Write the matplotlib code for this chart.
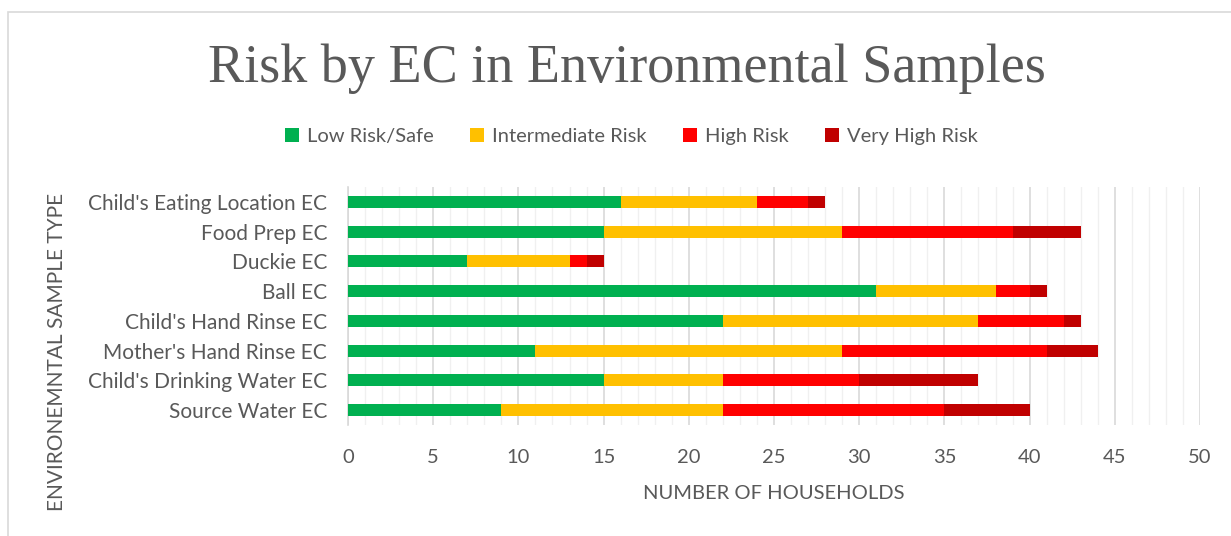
import numpy as np
import matplotlib.pyplot as plt
from matplotlib.patches import Rectangle
from matplotlib.ticker import MultipleLocator

# Data (bottom to top, as drawn)
samples = ["Source Water EC", "Child's Drinking Water EC", "Mother's Hand Rinse EC",
           "Child's Hand Rinse EC", "Ball EC", "Duckie EC", "Food Prep EC",
           "Child's Eating Location EC"]
low_risk = [9, 15, 11, 22, 31, 7, 15, 16]
intermediate_risk = [13, 7, 18, 15, 7, 6, 14, 8]
high_risk = [13, 8, 12, 5, 2, 1, 10, 3]
very_high_risk = [5, 7, 3, 1, 1, 1, 4, 1]

series = [("Low Risk/Safe", low_risk, "#00B050"),
          ("Intermediate Risk", intermediate_risk, "#FFC000"),
          ("High Risk", high_risk, "#FF0000"),
          ("Very High Risk", very_high_risk, "#C00000")]

text_color = "#595959"
plt.rcParams['font.family'] = ['Lato', 'DejaVu Sans']

fig = plt.figure(figsize=(12.31, 5.36), dpi=100)
ax = fig.add_axes([0.2827, 0.207, 0.6921, 0.444])

# Stacked horizontal bars
y = np.arange(len(samples))
left = np.zeros(len(samples))
for name, vals, color in series:
    ax.barh(y, vals, left=left, height=0.4, color=color, label=name, zorder=3)
    left += np.array(vals)

ax.set_xlim(0, 50)
ax.set_ylim(-0.5, len(samples) - 0.5)
ax.xaxis.set_major_locator(MultipleLocator(5))
ax.xaxis.set_minor_locator(MultipleLocator(1))
ax.set_yticks(y)
ax.set_yticklabels(samples)

ax.grid(which='major', axis='x', color='#D9D9D9', linewidth=1.2, zorder=0)
ax.grid(which='minor', axis='x', color='#F0F0F0', linewidth=1.0, zorder=0)

for side in ['top', 'right', 'bottom']:
    ax.spines[side].set_visible(False)
ax.spines['left'].set_color('#D9D9D9')
ax.spines['left'].set_linewidth(1.2)

ax.tick_params(axis='both', which='both', length=0, colors=text_color)
ax.tick_params(axis='x', labelsize=14.5, pad=17)
ax.tick_params(axis='y', labelsize=15, pad=15)

ax.set_xlabel("NUMBER OF HOUSEHOLDS", fontsize=14.5, color=text_color, labelpad=14)
fig.text(0.046, 0.343, "ENVIRONEMNTAL SAMPLE TYPE", rotation=90, fontsize=15,
         color=text_color, ha='center', va='center')

# Title
fig.text(0.509, 0.872, "Risk by EC in Environmental Samples", fontsize=39,
         family=['Liberation Serif'], color=text_color, ha='center', va='center')

# Legend
handles, labels = ax.get_legend_handles_labels()
leg = fig.legend(handles, labels, loc='center', bbox_to_anchor=(0.513, 0.745), ncol=4,
                 frameon=False, fontsize=14.5, handlelength=0.7, handleheight=0.7,
                 handletextpad=0.4, columnspacing=1.8)
for t in leg.get_texts():
    t.set_color(text_color)

# Chart border
fig.patches.append(Rectangle((0.0065, -0.05), 1.2, 1.028, transform=fig.transFigure,
                             fill=False, edgecolor='#D9D9D9', linewidth=1.2))

fig.savefig("out.png", dpi=100)
